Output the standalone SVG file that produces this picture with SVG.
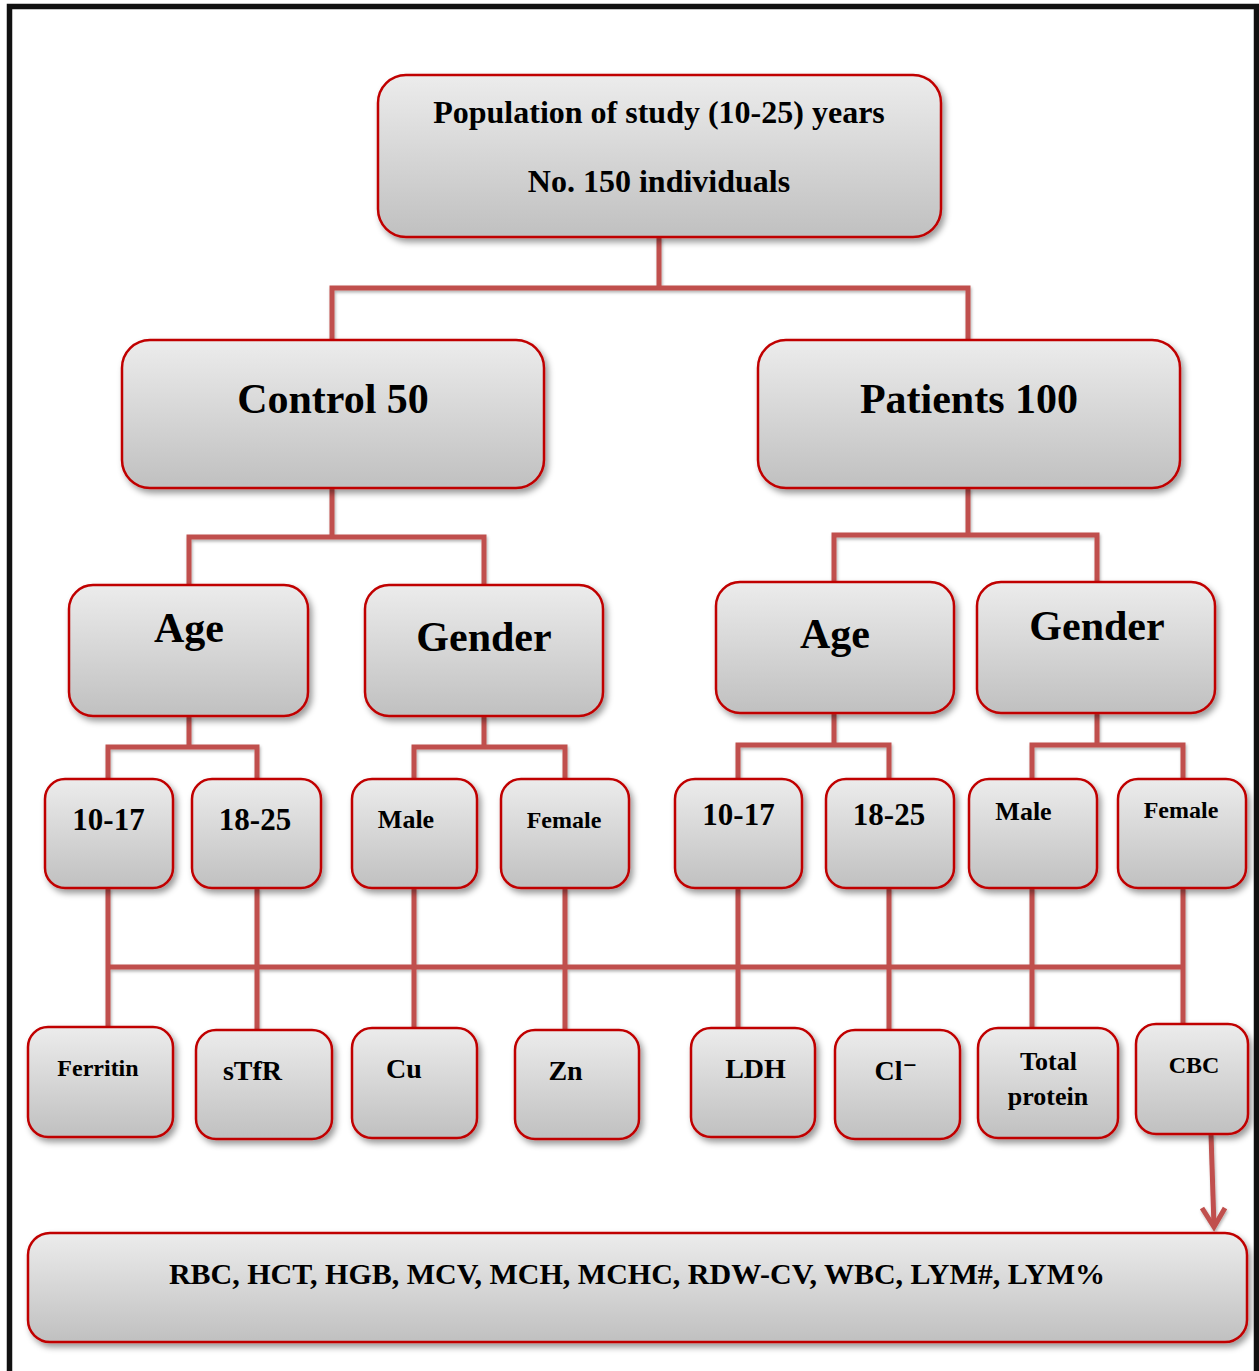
<svg xmlns="http://www.w3.org/2000/svg" width="1259" height="1371" viewBox="0 0 1259 1371">
<defs>
<linearGradient id="g" x1="0" y1="0" x2="0" y2="1">
<stop offset="0" stop-color="#ececec"/>
<stop offset="1" stop-color="#c0c0c0"/>
</linearGradient>
<filter id="sh" x="-10%" y="-10%" width="130%" height="130%">
<feDropShadow dx="3" dy="4" stdDeviation="3" flood-color="#000" flood-opacity="0.4"/>
</filter>
<filter id="lsh" x="-10%" y="-10%" width="130%" height="130%">
<feDropShadow dx="1" dy="2" stdDeviation="1.5" flood-color="#000" flood-opacity="0.3"/>
</filter>
</defs>
<style>
.b{fill:url(#g);stroke:#c00000;stroke-width:2.5;filter:url(#sh)}
.t{font-family:"Liberation Serif","Times New Roman","DejaVu Serif",serif;font-weight:bold;fill:#000;text-anchor:middle}
.c{fill:none;stroke:#c0504d;stroke-width:5;stroke-linejoin:miter}
</style>
<rect x="0" y="0" width="1259" height="1371" fill="#fff"/>
<path d="M9.5 1371 V6.5 H1256.5 V1371" fill="none" stroke="#111" stroke-width="5.5"/>

<g id="connectors" filter="url(#lsh)">
<path class="c" d="M659 237 V288 M332 340 V288 H968 V340"/>
<path class="c" d="M332 488 V537 M189 585 V537 H484 V585"/>
<path class="c" d="M968 488 V535 M834 582 V535 H1097 V582"/>
<path class="c" d="M189 716 V747 M108 779 V747 H257 V779"/>
<path class="c" d="M484 716 V747 M414 779 V747 H565 V779"/>
<path class="c" d="M834 713 V745 M738 779 V745 H889 V779"/>
<path class="c" d="M1097 713 V745 M1032 779 V745 H1183 V779"/>
<path class="c" d="M108 967 H1183"/>
<path class="c" d="M108 888 V1027 M257 888 V1030 M414 888 V1028 M565 888 V1030 M738 888 V1028 M889 888 V1030 M1032 888 V1028 M1183 888 V1024"/>
<line class="c" x1="1211" y1="1134" x2="1214" y2="1227"/>
<polyline class="c" points="1202,1208 1214,1227 1225,1208"/>
</g>

<g id="n-top"><rect class="b" x="378" y="75" width="563" height="162" rx="28"/>
<text class="t" x="659" y="123" font-size="32">Population of study (10-25) years</text>
<text class="t" x="659" y="192" font-size="32">No. 150 individuals</text></g>

<g id="n-control"><rect class="b" x="122" y="340" width="422" height="148" rx="28"/>
<text class="t" x="333" y="413" font-size="42">Control 50</text></g>
<g id="n-patients"><rect class="b" x="758" y="340" width="422" height="148" rx="28"/>
<text class="t" x="969" y="413" font-size="42">Patients 100</text></g>

<g id="n-age-c"><rect class="b" x="69" y="585" width="239" height="131" rx="24"/>
<text class="t" x="189" y="642" font-size="42">Age</text></g>
<g id="n-gender-c"><rect class="b" x="365" y="585" width="238" height="131" rx="24"/>
<text class="t" x="484" y="651" font-size="42">Gender</text></g>
<g id="n-age-p"><rect class="b" x="716" y="582" width="238" height="131" rx="24"/>
<text class="t" x="835" y="648" font-size="42">Age</text></g>
<g id="n-gender-p"><rect class="b" x="977" y="582" width="238" height="131" rx="24"/>
<text class="t" x="1097" y="640" font-size="42">Gender</text></g>

<g id="n-1017-c"><rect class="b" x="45" y="779" width="128" height="109" rx="20"/>
<text class="t" x="108.5" y="830" font-size="31">10-17</text></g>
<g id="n-1825-c"><rect class="b" x="192" y="779" width="129" height="109" rx="20"/>
<text class="t" x="255" y="830" font-size="31">18-25</text></g>
<g id="n-male-c"><rect class="b" x="352" y="779" width="125" height="109" rx="20"/>
<text class="t" x="406" y="828" font-size="26">Male</text></g>
<g id="n-female-c"><rect class="b" x="501" y="779" width="128" height="109" rx="20"/>
<text class="t" x="564" y="828" font-size="24">Female</text></g>
<g id="n-1017-p"><rect class="b" x="675" y="779" width="127" height="109" rx="20"/>
<text class="t" x="738.5" y="825" font-size="31">10-17</text></g>
<g id="n-1825-p"><rect class="b" x="826" y="779" width="128" height="109" rx="20"/>
<text class="t" x="889" y="825" font-size="31">18-25</text></g>
<g id="n-male-p"><rect class="b" x="969" y="779" width="128" height="109" rx="20"/>
<text class="t" x="1023.5" y="820" font-size="26">Male</text></g>
<g id="n-female-p"><rect class="b" x="1118" y="779" width="128" height="109" rx="20"/>
<text class="t" x="1181" y="818" font-size="24">Female</text></g>

<g id="n-ferritin"><rect class="b" x="28" y="1027" width="145" height="110" rx="20"/>
<text class="t" x="98" y="1076" font-size="24">Ferritin</text></g>
<g id="n-stfr"><rect class="b" x="196" y="1030" width="136" height="109" rx="20"/>
<text class="t" x="252.5" y="1080" font-size="28">sTfR</text></g>
<g id="n-cu"><rect class="b" x="352" y="1028" width="125" height="110" rx="20"/>
<text class="t" x="404" y="1078" font-size="28">Cu</text></g>
<g id="n-zn"><rect class="b" x="515" y="1030" width="124" height="109" rx="20"/>
<text class="t" x="565.5" y="1080" font-size="28">Zn</text></g>
<g id="n-ldh"><rect class="b" x="691" y="1028" width="124" height="109" rx="20"/>
<text class="t" x="755.5" y="1078" font-size="28">LDH</text></g>
<g id="n-cl"><rect class="b" x="835" y="1030" width="125" height="109" rx="20"/>
<text class="t" x="896" y="1080" font-size="28">Cl⁻</text></g>
<g id="n-tp"><rect class="b" x="978" y="1028" width="140" height="110" rx="20"/>
<text class="t" x="1048.5" y="1070" font-size="26">Total</text>
<text class="t" x="1048" y="1105" font-size="26">protein</text></g>
<g id="n-cbc"><rect class="b" x="1136" y="1024" width="112" height="110" rx="20"/>
<text class="t" x="1194" y="1073" font-size="24">CBC</text></g>

<g id="n-cbc-list"><rect class="b" x="28" y="1233" width="1219" height="109" rx="22"/>
<text class="t" x="637" y="1284" font-size="30">RBC, HCT, HGB, MCV, MCH, MCHC, RDW-CV, WBC, LYM#, LYM%</text></g>
</svg>
